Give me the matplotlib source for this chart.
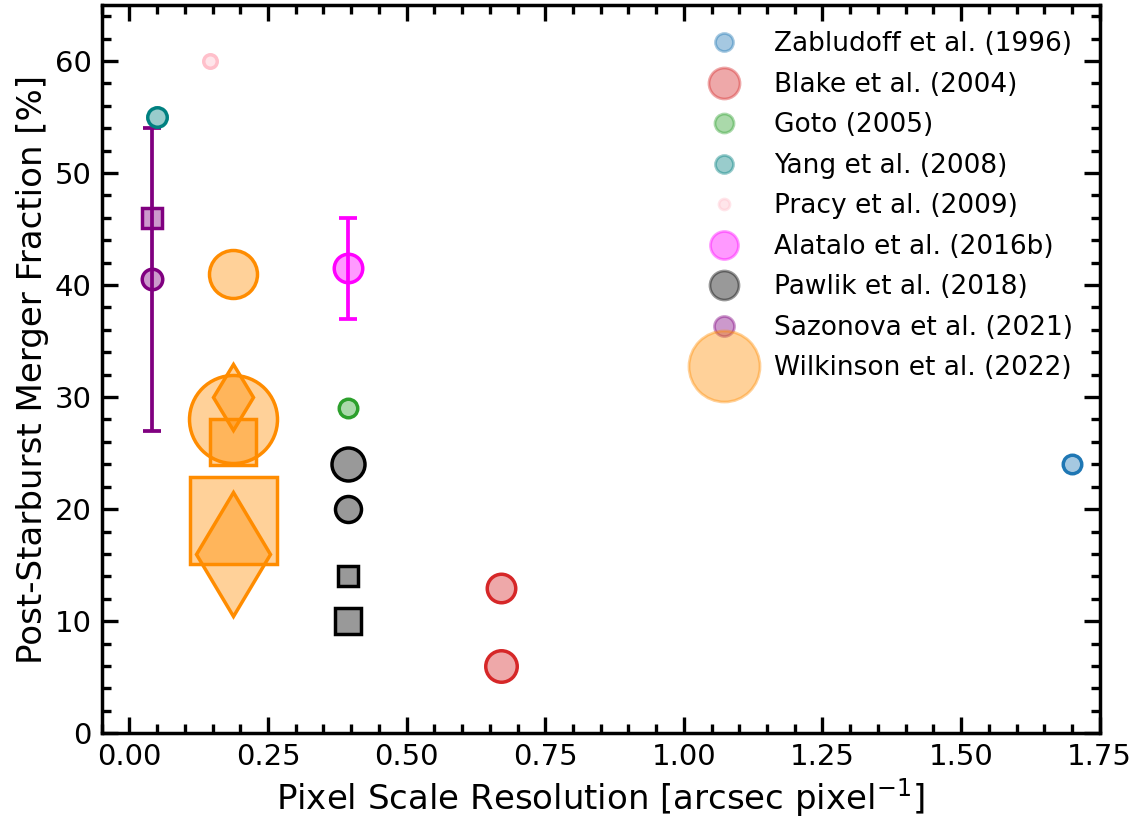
import numpy as np
from matplotlib import pyplot as plt
from matplotlib.lines import Line2D
from matplotlib.ticker import MultipleLocator
from matplotlib.colors import to_rgba

# studies, pixel scale [arcsec/pixel], merger fraction [%]
studies = ["Zabludoff et al. (1996)", "Blake et al. (2004)", "Goto (2005)",
           "Yang et al. (2008)", "Pracy et al. (2009)", "Alatalo et al. (2016b)",
           "Pawlik et al. (2018)", "Sazonova et al. (2021)", "Wilkinson et al. (2022)"]

zab_x = [1.70]
zab_y = [24]

blake_x = [0.67, 0.67]
blake_y = [13, 6]

goto_x = [0.395]
goto_y = [29]

yang_x = [0.05]
yang_y = [55]

pracy_x = [0.145]
pracy_y = [60]

alatalo_x = [0.395]
alatalo_y = [41.5]
alatalo_err = [4.5]

pawlik_x = [0.395, 0.395, 0.395, 0.395]
pawlik_y = [24, 20, 14, 10]

sazonova_x = [0.04, 0.04]
sazonova_y = [46, 40.5]
sazonova_err = [13.5]

wilk_x = [0.187, 0.187, 0.187, 0.187, 0.187, 0.187]
wilk_y = [28, 41, 26, 19, 30, 16]

fig, ax = plt.subplots(figsize=(11.42, 8.22), dpi=100)
fig.subplots_adjust(left=0.089, right=0.963, bottom=0.108, top=0.994)

PX = 0.72  # px -> pt at 100 dpi
LW = 2.5

def pts(x, y, color, diam_px, marker="o", zorder=3):
    ax.plot(x, y, linestyle="none", marker=marker, markersize=diam_px * PX,
            markerfacecolor=to_rgba(color, 0.4), markeredgecolor=color,
            markeredgewidth=LW, zorder=zorder)

# error bars
ax.errorbar(sazonova_x[1], sazonova_y[1], yerr=sazonova_err[0], color="purple",
            linewidth=2.7, capsize=6.5, capthick=2.7, zorder=2)
ax.errorbar(alatalo_x[0], alatalo_y[0], yerr=alatalo_err[0], color="magenta",
            linewidth=2.7, capsize=6.5, capthick=2.7, zorder=2)

pts(zab_x, zab_y, "tab:blue", 18.5)
pts(blake_x[:1], blake_y[:1], "tab:red", 28.5)
pts(blake_x[1:], blake_y[1:], "tab:red", 31.5)
pts(goto_x, goto_y, "tab:green", 18.5)
pts(yang_x, yang_y, "teal", 19.5)
pts(pracy_x, pracy_y, "pink", 13.5)
pts(alatalo_x, alatalo_y, "magenta", 28.5)

pts(pawlik_x[:1], pawlik_y[:1], "k", 33)
pts(pawlik_x[1:2], pawlik_y[1:2], "k", 26)
pts(pawlik_x[2:3], pawlik_y[2:3], "k", 20.5, marker="s")
pts(pawlik_x[3:], pawlik_y[3:], "k", 27, marker="s")

pts(sazonova_x[:1], sazonova_y[:1], "purple", 20.5, marker="s")
pts(sazonova_x[1:], sazonova_y[1:], "purple", 20.5)

pts(wilk_x[:1], wilk_y[:1], "darkorange", 88)
pts(wilk_x[1:2], wilk_y[1:2], "darkorange", 48)
pts(wilk_x[2:3], wilk_y[2:3], "darkorange", 47, marker="s")
pts(wilk_x[3:4], wilk_y[3:4], "darkorange", 87, marker="s")
pts(wilk_x[4:5], wilk_y[4:5], "darkorange", 47, marker="d")
pts(wilk_x[5:], wilk_y[5:], "darkorange", 87, marker="d")

# legend handles
colors = ["tab:blue", "tab:red", "tab:green", "teal", "pink", "magenta", "k", "purple", "darkorange"]
leg_px = [18, 31, 19, 18, 11, 28, 29, 20, 71]
handles = [Line2D([], [], linestyle="none", marker="o", markersize=d * PX,
                  markerfacecolor=to_rgba(c, 0.4), markeredgecolor=to_rgba(c, 0.4),
                  markeredgewidth=2.0)
           for c, d in zip(colors, leg_px)]
ax.legend(handles, studies, loc="upper right", frameon=False, fontsize=19,
          labelspacing=0.55, handletextpad=0.9, borderaxespad=0.6)

ax.set_xlim(-0.05, 1.75)
ax.set_ylim(0, 65)
ax.set_xticks(np.arange(0, 1.76, 0.25))
ax.xaxis.set_minor_locator(MultipleLocator(0.05))
ax.yaxis.set_minor_locator(MultipleLocator(2))
ax.tick_params(which="both", direction="in", top=True, right=True, width=2.4,
               labelsize=21, pad=7)
ax.tick_params(which="major", length=11.5)
ax.tick_params(which="minor", length=6.5)
for s in ax.spines.values():
    s.set_linewidth(2.5)

ax.set_xlabel(r"Pixel Scale Resolution [arcsec pixel$^{-1}$]", fontsize=24.5)
ax.set_ylabel("Post-Starburst Merger Fraction [%]", fontsize=24.5)

plt.savefig("out.png", dpi=100)
